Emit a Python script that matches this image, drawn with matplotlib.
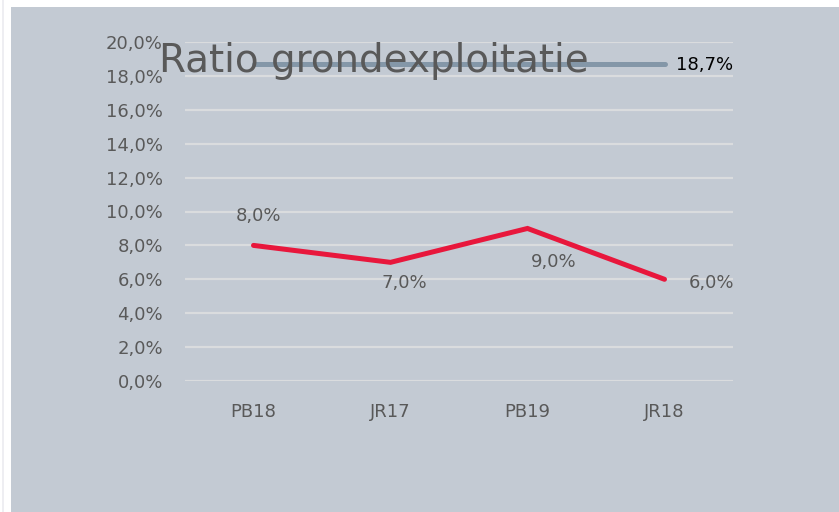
import matplotlib
matplotlib.use("Agg")
import matplotlib.pyplot as plt
from matplotlib.patches import Rectangle
from matplotlib.ticker import FuncFormatter, MultipleLocator

categories = ["PB18", "JR17", "PB19", "JR18"]
ratio = [8.0, 7.0, 9.0, 6.0]
target = [18.7, 18.7, 18.7, 18.7]
ratio_labels = ["8,0%", "7,0%", "9,0%", "6,0%"]
# label offsets in pixels (dx, dy) relative to points
ratio_offsets = [(5, 29), (14, -21), (26, -34), (47, -4)]
title = "Ratio grondexploitatie"

BG = "#c3cad3"
TXT = "#595959"
RED = "#e8173c"
GREY = "#8497a8"
GRID = "#dadcde"

fig = plt.figure(figsize=(8.39, 5.12), dpi=100)
fig.patch.set_facecolor("white")
W, H = 839, 512
fig.add_artist(Rectangle((11 / W, 0), 1 - 11 / W, 1 - 7 / H, transform=fig.transFigure,
                         facecolor=BG, edgecolor="none", zorder=-10))
fig.add_artist(Rectangle((2 / W, 0), 2 / W, 1, transform=fig.transFigure,
                         facecolor="#eeeef2", edgecolor="none", zorder=-10))

ax = fig.add_axes([185 / W, 1 - 381 / H, (733 - 185) / W, (381 - 42) / H])
ax.set_zorder(1)
ax.set_facecolor("none")
x = [i + 0.5 for i in range(len(categories))]
ax.set_xlim(0, len(categories))
ax.set_ylim(0, 20)
ax.yaxis.set_major_locator(MultipleLocator(2))
ax.yaxis.set_major_formatter(FuncFormatter(lambda v, p: f"{v:.1f}".replace(".", ",") + "%"))
ax.set_xticks(x)
ax.set_xticklabels(categories)
ax.grid(axis="y", color=GRID, linewidth=1.6, zorder=1)
ax.set_axisbelow(True)
for s in ax.spines.values():
    s.set_visible(False)
ax.tick_params(axis="both", length=0, labelsize=13, labelcolor=TXT)
ax.tick_params(axis="y", pad=16)
ax.tick_params(axis="x", pad=16)

ax.plot(x, target, color=GREY, linewidth=3.6, solid_capstyle="round", zorder=3)
ax.plot(x, ratio, color=RED, linewidth=3.6, solid_capstyle="round",
        solid_joinstyle="miter", zorder=4)

for xi, yi, lab, (dx, dy) in zip(x, ratio, ratio_labels, ratio_offsets):
    ax.annotate(lab, (xi, yi), xytext=(dx * 0.72, dy * 0.72), textcoords="offset points",
                ha="center", va="center", fontsize=13, color=TXT, zorder=5)
ax.annotate(f"{target[-1]:.1f}".replace(".", ",") + "%", (x[-1], target[-1]),
            xytext=(40 * 0.72, -1 * 0.72), textcoords="offset points",
            ha="center", va="center", fontsize=13, color="black", zorder=5)

fig.text(373.5 / W, 1 - 72 / H, title, ha="center", va="baseline", fontsize=28, color=TXT,
         zorder=6)

fig.savefig("out.png", dpi=100, facecolor=fig.get_facecolor())
